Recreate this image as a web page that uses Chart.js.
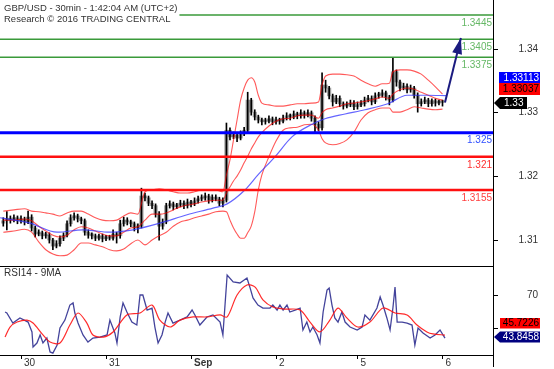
<!DOCTYPE html>
<html><head><meta charset="utf-8">
<script src="https://cdn.jsdelivr.net/npm/chart.js@4.4.1/dist/chart.umd.min.js"></script>
<style>
html,body{margin:0;padding:0;background:#fff;width:554px;height:369px;overflow:hidden;}
#wrap{position:relative;width:554px;height:369px;background:#fff;}
canvas{position:absolute;left:0;}
#main{top:0;width:554px;height:266px;}
#rsi{top:266px;width:554px;height:103px;}
</style></head><body>
<div id="wrap"><canvas id="main" width="554" height="266"></canvas><canvas id="rsi" width="554" height="103"></canvas></div>
<script>
// ---------- DATA ----------
const titleLines = ['GBP/USD - 30min - 1:42:04 AM (UTC+2)', 'Research \u00A9 2016 TRADING CENTRAL'];
const rsiTitle = 'RSI14 - 9MA';

// time axis in hours from the start of Aug 30
const dayTickHours = [0, 24, 48, 72, 95, 119];
const dayLabels = ['30', '31', 'Sep', '2', '5', '6'];

const candleHours = [-5,-4,-3,-2,-1,0,1,2,3,4,5,6,7,8,9,10,11,12,13,14,15,16,17,18,19,20,21,22,23,24,25,26,27,28,29,30,31,32,33,34,35,36,37,38,39,40,41,42,43,44,45,46,47,48,49,50,51,52,53,54,55,56,57,58,59,60,61,62,63,64,65,66,67,68,69,70,71,72,73,74,75,76,77,78,79,80,81,82,83,84,85,86,87,88,89,90,91,92,93,94,95,96,97,98,99,100,101,102,103,104,105,106,107,108,109,110,111,112,113,114,115,116,117,118,119];
const opens = [1.3100,1.3104,1.3107,1.3105,1.3109,1.3104,1.3107,1.3102,1.3110,1.3092,
 1.3082,1.3084,1.3079,1.3080,1.3072,1.3062,1.3066,1.3075,1.3080,1.3099,
 1.3109,1.3112,1.3107,1.3104,1.3085,1.3080,1.3079,1.3075,1.3079,1.3074,
 1.3077,1.3075,1.3082,1.3079,1.3099,1.3105,1.3102,1.3099,1.3092,1.3095,
 1.3145,1.3142,1.3133,1.3129,1.3115,1.3095,1.3102,1.3129,1.3132,1.3127,
 1.3130,1.3133,1.3129,1.3135,1.3132,1.3137,1.3140,1.3142,1.3145,1.3138,
 1.3143,1.3140,1.3133,1.3138,1.3254,1.3243,1.3246,1.3241,1.3248,1.3254,
 1.3304,1.3284,1.3276,1.3271,1.3268,1.3269,1.3273,1.3268,1.3271,1.3269,
 1.3274,1.3278,1.3276,1.3281,1.3278,1.3283,1.3279,1.3283,1.3274,1.3264,
 1.3258,1.3329,1.3324,1.3311,1.3301,1.3307,1.3298,1.3294,1.3296,1.3299,
 1.3293,1.3296,1.3298,1.3304,1.3307,1.3301,1.3311,1.3312,1.3316,1.3309,
 1.3304,1.3351,1.3334,1.3324,1.3327,1.3321,1.3324,1.3312,1.3298,1.3301,
 1.3304,1.3298,1.3303,1.3299,1.3301];
const highs = [1.3109,1.3119,1.3112,1.3114,1.3112,1.3112,1.3110,1.3120,1.3114,1.3095,
 1.3089,1.3087,1.3085,1.3084,1.3075,1.3071,1.3079,1.3084,1.3104,1.3114,
 1.3117,1.3115,1.3110,1.3107,1.3089,1.3084,1.3082,1.3082,1.3082,1.3080,
 1.3080,1.3089,1.3085,1.3105,1.3110,1.3109,1.3105,1.3102,1.3099,1.3158,
 1.3150,1.3145,1.3137,1.3132,1.3119,1.3107,1.3133,1.3137,1.3135,1.3133,
 1.3138,1.3137,1.3140,1.3138,1.3142,1.3145,1.3147,1.3150,1.3148,1.3147,
 1.3147,1.3143,1.3142,1.3266,1.3258,1.3251,1.3250,1.3253,1.3259,1.3317,
 1.3307,1.3288,1.3279,1.3274,1.3274,1.3278,1.3276,1.3276,1.3274,1.3279,
 1.3283,1.3281,1.3286,1.3284,1.3288,1.3286,1.3288,1.3286,1.3278,1.3268,
 1.3349,1.3337,1.3327,1.3314,1.3312,1.3311,1.3301,1.3301,1.3304,1.3303,
 1.3301,1.3303,1.3309,1.3312,1.3311,1.3316,1.3317,1.3321,1.3319,1.3312,
 1.3375,1.3354,1.3337,1.3332,1.3331,1.3329,1.3327,1.3316,1.3306,1.3309,
 1.3307,1.3306,1.3306,1.3304,1.3304];
const lows = [1.3095,1.3089,1.3100,1.3102,1.3099,1.3100,1.3097,1.3099,1.3087,1.3077,
 1.3079,1.3074,1.3075,1.3067,1.3056,1.3059,1.3062,1.3071,1.3077,1.3095,
 1.3105,1.3102,1.3099,1.3080,1.3075,1.3074,1.3071,1.3072,1.3069,1.3071,
 1.3072,1.3072,1.3067,1.3075,1.3095,1.3097,1.3094,1.3087,1.3084,1.3092,
 1.3137,1.3129,1.3124,1.3110,1.3072,1.3090,1.3099,1.3125,1.3122,1.3124,
 1.3127,1.3124,1.3125,1.3127,1.3129,1.3133,1.3137,1.3138,1.3133,1.3135,
 1.3137,1.3129,1.3127,1.3135,1.3238,1.3240,1.3235,1.3238,1.3245,1.3251,
 1.3279,1.3271,1.3266,1.3263,1.3264,1.3266,1.3263,1.3264,1.3264,1.3266,
 1.3271,1.3271,1.3273,1.3273,1.3274,1.3274,1.3276,1.3269,1.3251,1.3253,
 1.3254,1.3317,1.3306,1.3294,1.3298,1.3293,1.3289,1.3291,1.3293,1.3288,
 1.3289,1.3293,1.3294,1.3301,1.3296,1.3298,1.3307,1.3309,1.3304,1.3296,
 1.3301,1.3327,1.3319,1.3321,1.3316,1.3317,1.3307,1.3284,1.3294,1.3298,
 1.3293,1.3294,1.3294,1.3296,1.3294];
const closes = [1.3104,1.3107,1.3105,1.3109,1.3104,1.3107,1.3102,1.3110,1.3092,1.3082,
 1.3084,1.3079,1.3080,1.3072,1.3062,1.3066,1.3075,1.3080,1.3099,1.3109,
 1.3112,1.3107,1.3104,1.3085,1.3080,1.3079,1.3075,1.3079,1.3074,1.3077,
 1.3075,1.3082,1.3079,1.3099,1.3105,1.3102,1.3099,1.3092,1.3095,1.3145,
 1.3142,1.3133,1.3129,1.3115,1.3095,1.3102,1.3129,1.3132,1.3127,1.3130,
 1.3133,1.3129,1.3135,1.3132,1.3137,1.3140,1.3142,1.3145,1.3138,1.3143,
 1.3140,1.3133,1.3138,1.3254,1.3243,1.3246,1.3241,1.3248,1.3254,1.3304,
 1.3284,1.3276,1.3271,1.3268,1.3269,1.3273,1.3268,1.3271,1.3269,1.3274,
 1.3278,1.3276,1.3281,1.3278,1.3283,1.3279,1.3283,1.3274,1.3264,1.3258,
 1.3329,1.3324,1.3311,1.3301,1.3307,1.3298,1.3294,1.3296,1.3299,1.3293,
 1.3296,1.3298,1.3304,1.3307,1.3301,1.3311,1.3312,1.3316,1.3309,1.3304,
 1.3351,1.3334,1.3324,1.3327,1.3321,1.3324,1.3312,1.3298,1.3301,1.3304,
 1.3298,1.3303,1.3299,1.3301,1.3300];

// Bollinger bands
const bandHours = [-5,-2,1,3,5,7,9,11,13,15,17,19,21,23,25,27,29,31,33,35,37,39,41,43,45,47,49,51,53,55,57,58,59,60,61,62,63,64,65,66,67,68,70,72,74,76,78,80,82,84,85,86,88,90,92,94,96,98,100,102,104,105,107,109,111,113,115,117,119];
const upperBand = [1.3120,1.3122,1.3124,1.3120,1.3119,1.3117,1.3115,1.3112,1.3117,1.3120,1.3120,1.3115,1.3109,1.3105,1.3104,1.3105,1.3112,1.3117,1.3115,1.3152,1.3155,1.3157,1.3155,1.3152,1.3150,1.3150,1.3152,1.3155,1.3155,1.3155,1.3152,1.3180,1.3205,1.3238,1.3271,1.3304,1.3324,1.3337,1.3341,1.3334,1.3312,1.3299,1.3296,1.3294,1.3294,1.3296,1.3298,1.3298,1.3299,1.3301,1.3329,1.3344,1.3347,1.3347,1.3346,1.3344,1.3337,1.3331,1.3327,1.3331,1.3332,1.3351,1.3354,1.3354,1.3352,1.3347,1.3337,1.3326,1.3314];
const midBand = [1.3105,1.3105,1.3107,1.3104,1.3095,1.3087,1.3080,1.3077,1.3080,1.3089,1.3094,1.3092,1.3087,1.3082,1.3079,1.3079,1.3085,1.3092,1.3094,1.3105,1.3115,1.3115,1.3117,1.3122,1.3127,1.3130,1.3132,1.3135,1.3137,1.3138,1.3138,1.3150,1.3160,1.3170,1.3178,1.3188,1.3200,1.3211,1.3223,1.3233,1.3243,1.3250,1.3261,1.3269,1.3273,1.3274,1.3278,1.3279,1.3279,1.3274,1.3283,1.3288,1.3291,1.3294,1.3298,1.3299,1.3301,1.3303,1.3306,1.3309,1.3307,1.3314,1.3321,1.3324,1.3322,1.3317,1.3312,1.3307,1.33037];
const lowerBand = [1.3085,1.3087,1.3090,1.3085,1.3069,1.3056,1.3049,1.3046,1.3047,1.3056,1.3067,1.3067,1.3064,1.3061,1.3056,1.3054,1.3057,1.3066,1.3072,1.3064,1.3072,1.3079,1.3085,1.3095,1.3102,1.3105,1.3109,1.3112,1.3115,1.3119,1.3120,1.3119,1.3105,1.3092,1.3082,1.3075,1.3075,1.3084,1.3095,1.3119,1.3155,1.3180,1.3210,1.3236,1.3254,1.3258,1.3259,1.3263,1.3264,1.3254,1.3240,1.3233,1.3230,1.3232,1.3238,1.3251,1.3271,1.3283,1.3288,1.3291,1.3291,1.3284,1.3284,1.3288,1.3293,1.3291,1.3289,1.3288,1.3289];

// longer moving average (blue)
const maHours = [-5.9,-4,2.5,10.2,17.5,25.1,31.6,39.2,46.9,54.2,58.2,63.2,66.9,71.7,76.5,82.2,85.8,91.5,97.1,103.6,109,114.9,120];
const maVals = [1.3109,1.3107,1.3100,1.3085,1.3089,1.3085,1.3089,1.3100,1.3114,1.3125,1.3132,1.3155,1.3180,1.3210,1.3243,1.3264,1.3273,1.3281,1.3288,1.3298,1.3312,1.3312,1.33113];

// support / resistance levels
const levels = [1.3445, 1.3405, 1.3375, 1.325, 1.321, 1.3155];
const levelTexts = ['1.3445', '1.3405', '1.3375', '1.325', '1.321', '1.3155'];

// forecast arrow
const arrowHours = [119.7, 124.2];
const arrowVals = [1.3300, 1.3407];

// price axis tick labels
const priceTicks = [1.31, 1.32, 1.33, 1.34];

// RSI
const rsiHours = [-4.5,-4.0,-2.3,-0.3,2.0,3.1,3.4,4.5,5.4,6.2,7.3,8.2,9.0,10.2,11.0,12.4,13.8,14.7,15.2,16.1,17.5,18.9,20.3,22.3,24.3,25.1,26.5,27.1,28.0,28.8,29.9,31.3,32.7,33.6,34.4,35.6,37.0,37.8,38.7,39.8,40.7,41.5,42.9,44.9,46.9,48.3,49.1,50.5,52.5,54.2,56.2,57.0,58.2,59.9,61.8,63.8,64.7,65.5,66.9,68.3,70.3,71.1,72.3,73.1,74.0,75.1,75.9,77.4,78.8,79.6,80.7,81.6,82.4,83.6,84.4,85.3,86.4,87.0,87.8,88.6,89.5,90.6,91.5,92.9,94.9,96.3,97.1,98.5,100.5,101.4,102.2,103.3,104.2,105.0,105.6,106.2,107.6,109.0,110.4,111.2,112.1,113.5,115.5,116.9,118.3,119.7];
const rsiVals = [59.7,59.1,53.0,56.1,53.6,47.6,38.5,40.9,45.8,40.9,43.9,35.5,34.8,39.7,50.0,54.8,63.9,65.2,59.1,53.0,45.8,41.5,43.9,44.5,45.8,54.8,47.0,40.9,56.7,65.2,59.7,53.6,51.8,70.0,70.0,60.9,62.1,50.6,40.9,45.8,53.6,59.1,53.0,54.8,56.7,60.9,57.9,51.8,56.7,57.9,53.6,45.8,82.1,77.9,77.3,80.3,74.2,68.2,63.9,62.1,62.1,63.9,60.9,63.9,60.9,63.9,59.7,60.9,62.1,48.8,53.6,47.6,50.6,45.8,40.9,59.7,73.0,74.2,63.9,56.1,53.6,59.7,53.6,50.6,48.8,50.6,57.9,54.8,62.1,68.8,63.9,56.1,48.8,62.1,74.8,53.6,53.6,53.0,51.8,39.7,50.0,47.0,43.9,45.8,48.8,43.8458];
const rsiMaHours = [-4.5,-3.1,-1.1,1.7,3.4,6.2,8.2,11.0,13.8,16.1,18.6,20.3,23.2,26.0,29.9,33.6,37.0,39.2,42.1,44.9,48.6,52.5,56.2,58.2,61.0,63.8,66.1,68.3,71.1,74.5,78.8,81.6,84.4,87.2,89.5,92.0,95.1,98.5,102.2,105.6,109.0,111.8,114.6,116.3,119.7];
const rsiMaVals = [44.5,50.6,53.6,54.8,53.0,45.8,41.5,40.9,51.8,59.1,53.0,45.8,44.5,47.6,57.9,59.1,63.9,54.8,50.6,54.8,56.7,56.7,57.9,56.7,70.0,76.1,74.8,67.0,62.7,61.5,60.9,53.6,47.6,54.8,62.1,56.1,50.6,53.6,62.1,59.1,57.9,51.8,47.6,46.4,45.7226];
const rsiTicks = [50, 70];
const rsiTickLabels = ['', '70'];

// ---------- STYLE / LAYOUT ----------
const FONT = '"Liberation Sans", Arial, sans-serif';
const X_MIN = -5.93, X_MAX = 133.26;
const Y_MIN = 1.30290, Y_MAX = 1.34699;      // plotted price range
const YL_MIN = 1.30592, YL_MAX = 1.34770;    // price label axis range
const RSI_MIN = 33.64, RSI_MAX = 87.58;
const levelColors = ['#3a9a3a', '#3a9a3a', '#3a9a3a', '#0000ff', '#ff1010', '#ff1010'];
const levelWidths = [1.5, 1.5, 1.5, 3, 2.5, 2.5];
const levelLabelColors = ['#66b866', '#66b866', '#66b866', '#3050ff', '#ff3030', '#ff4040'];
const arrowColor = '#1b1b80';

const xy = (xs, ys) => xs.map((x, i) => ({x: x, y: ys[i]}));
const lineDs = (label, data, color, width, order, extra) => Object.assign({
  type: 'line', label, data, borderColor: color, borderWidth: width, pointRadius: 0,
  fill: false, order, tension: 0
}, extra || {});
const noPad = s => { s.paddingTop = 0; s.paddingBottom = 0; s.paddingLeft = 0; s.paddingRight = 0; };

const datasets = [];
datasets.push(lineDs('arrow', xy(arrowHours, arrowVals), arrowColor, 2, 0));
levels.forEach((v, i) => datasets.push(lineDs('lvl' + i, [{x: X_MIN, y: v}, {x: X_MAX, y: v}], levelColors[i], levelWidths[i], 1)));
datasets.push(lineDs('ma', xy(maHours, maVals), 'rgba(50,50,255,0.75)', 1.2, 2, {cubicInterpolationMode: 'monotone'}));
datasets.push(lineDs('upper', xy(bandHours, upperBand), 'rgba(255,0,0,0.65)', 1.1, 3, {cubicInterpolationMode: 'monotone'}));
datasets.push(lineDs('mid', xy(bandHours, midBand), 'rgba(255,0,0,0.65)', 1.1, 3, {cubicInterpolationMode: 'monotone'}));
datasets.push(lineDs('lower', xy(bandHours, lowerBand), 'rgba(255,0,0,0.65)', 1.1, 3, {cubicInterpolationMode: 'monotone'}));
datasets.push({type: 'bar', label: 'wick', data: candleHours.map((h, i) => ({x: h, y: [lows[i], highs[i]]})),
  backgroundColor: '#000', barThickness: 1, grouped: false, order: 4});
datasets.push({type: 'bar', label: 'body', data: candleHours.map((h, i) => ({x: h, y: [opens[i], closes[i]]})),
  backgroundColor: 'rgba(95,95,95,0.6)', barThickness: 3.5, grouped: false, order: 5, minBarLength: 2});

const mainDecor = {
  id: 'mainDecor',
  afterDraw(chart) {
    const {ctx, chartArea: ca, scales} = chart;
    const ys = scales.y;
    ctx.save();
    // title with white backing
    ctx.font = '9.5px ' + FONT;
    const w = Math.max(...titleLines.map(t => ctx.measureText(t).width));
    ctx.fillStyle = '#fff';
    ctx.fillRect(0, 0, w + 6, 26);
    ctx.fillStyle = '#333';
    ctx.textAlign = 'left'; ctx.textBaseline = 'middle';
    ctx.fillText(titleLines[0], 4, 8);
    ctx.fillText(titleLines[1], 4, 19.5);
    // level labels
    ctx.font = '10px ' + FONT;
    ctx.textAlign = 'right'; ctx.textBaseline = 'top';
    levels.forEach((v, i) => {
      const py = ys.getPixelForValue(v);
      ctx.fillStyle = levelLabelColors[i];
      ctx.fillText(levelTexts[i], ca.right - 1, py + 3);
    });
    // arrowhead
    const am = chart.getDatasetMeta(0).data;
    const p0 = am[0], p1 = am[1];
    const ang = Math.atan2(p1.y - p0.y, p1.x - p0.x);
    const L = 16, W = 5;
    const bxp = p1.x - L * Math.cos(ang), byp = p1.y - L * Math.sin(ang);
    ctx.fillStyle = arrowColor;
    ctx.beginPath();
    ctx.moveTo(p1.x, p1.y);
    ctx.lineTo(bxp + W * Math.sin(ang), byp - W * Math.cos(ang));
    ctx.lineTo(bxp - W * Math.sin(ang), byp + W * Math.cos(ang));
    ctx.closePath(); ctx.fill();
    // price boxes
    const last = closes[closes.length - 1];
    const by = Math.round(ys.getPixelForValue(last));
    const bx = ca.right;
    ctx.fillStyle = '#000';
    ctx.beginPath();
    ctx.moveTo(bx + 1, by); ctx.lineTo(bx + 7, by - 6); ctx.lineTo(bx + 34, by - 6);
    ctx.lineTo(bx + 34, by + 6); ctx.lineTo(bx + 7, by + 6); ctx.closePath(); ctx.fill();
    ctx.fillStyle = '#fff'; ctx.textAlign = 'left'; ctx.textBaseline = 'middle';
    ctx.fillText(String(last), bx + 11, by + 0.5);
    ctx.fillStyle = '#ff0000'; ctx.fillRect(bx + 6, by - 20, 41, 12);
    ctx.fillStyle = '#000'; ctx.textAlign = 'right';
    ctx.fillText(String(midBand[midBand.length - 1]), bx + 46, by - 13.5);
    ctx.fillStyle = '#0000ff'; ctx.fillRect(bx + 6, by - 31, 41, 11);
    ctx.fillStyle = '#fff';
    ctx.fillText(String(maVals[maVals.length - 1]), bx + 46, by - 25);
    ctx.restore();
  }
};

new Chart(document.getElementById('main'), {
  type: 'bar',
  data: {datasets},
  options: {
    responsive: false, animation: false, events: [],
    layout: {padding: {left: 0, right: 16, top: 0, bottom: 0}},
    plugins: {legend: {display: false}, tooltip: {enabled: false}},
    scales: {
      x: {type: 'linear', min: X_MIN, max: X_MAX, display: false, offset: false},
      y: {type: 'linear', min: Y_MIN, max: Y_MAX, display: false},
      yLab: {
        type: 'linear', position: 'right', min: YL_MIN, max: YL_MAX,
        afterBuildTicks: s => { s.ticks = priceTicks.map(v => ({value: v})); },
        afterFit: s => { s.width = 45; noPad(s); },
        grid: {drawOnChartArea: false, tickLength: 5, color: '#000'},
        border: {color: '#000', width: 1},
        ticks: {crossAlign: 'far', color: '#333', font: {family: FONT, size: 10}, callback: v => v.toFixed(2)}
      }
    }
  },
  plugins: [mainDecor]
});

const rsiDecor = {
  id: 'rsiDecor',
  afterDraw(chart) {
    const {ctx, chartArea: ca, scales} = chart;
    ctx.save();
    ctx.strokeStyle = '#000'; ctx.lineWidth = 1;
    ctx.beginPath(); ctx.moveTo(0, 0.5); ctx.lineTo(ca.right, 0.5); ctx.stroke();
    ctx.beginPath(); ctx.moveTo(ca.right + 0.5, ca.bottom); ctx.lineTo(ca.right + 0.5, chart.height - 2); ctx.stroke();
    ctx.font = '10px ' + FONT; ctx.fillStyle = '#333';
    ctx.textAlign = 'left'; ctx.textBaseline = 'middle';
    ctx.fillText(rsiTitle, 4, 7.5);
    const ys = scales.y;
    const lastR = rsiVals[rsiVals.length - 1];
    const lastM = rsiMaVals[rsiMaVals.length - 1];
    const by = Math.round(ys.getPixelForValue(lastR)) - 1;
    const bx = ca.right;
    ctx.fillStyle = '#ff0000'; ctx.fillRect(bx + 7, by - 19, 40, 10.5);
    ctx.fillStyle = '#000'; ctx.textAlign = 'right';
    ctx.fillText(String(lastM), bx + 46, by - 13.5);
    ctx.fillStyle = '#000080';
    ctx.beginPath();
    ctx.moveTo(bx + 1, by); ctx.lineTo(bx + 7, by - 5.5); ctx.lineTo(bx + 47, by - 5.5);
    ctx.lineTo(bx + 47, by + 5.5); ctx.lineTo(bx + 7, by + 5.5); ctx.closePath(); ctx.fill();
    ctx.fillStyle = '#fff';
    ctx.fillText(String(lastR), bx + 46, by + 0.5);
    ctx.restore();
  }
};

new Chart(document.getElementById('rsi'), {
  type: 'line',
  data: {datasets: [
    {label: 'rsiMA', data: xy(rsiMaHours, rsiMaVals), borderColor: 'rgba(255,20,20,0.9)', borderWidth: 1.2, pointRadius: 0, tension: 0.3, order: 0},
    {label: 'rsi', data: xy(rsiHours, rsiVals), borderColor: 'rgba(20,20,130,0.8)', borderWidth: 1.3, pointRadius: 0, tension: 0, order: 1}
  ]},
  options: {
    responsive: false, animation: false, events: [],
    layout: {padding: {left: 0, right: 16, top: 0, bottom: 0}},
    plugins: {legend: {display: false}, tooltip: {enabled: false}},
    scales: {
      x: {
        type: 'linear', min: X_MIN, max: X_MAX, offset: false,
        afterBuildTicks: s => { s.ticks = dayTickHours.map(v => ({value: v})); },
        afterFit: s => { s.height = 14; noPad(s); },
        grid: {drawOnChartArea: false, tickLength: 4, color: '#000'},
        border: {color: '#000', width: 1},
        ticks: {
          align: 'start', labelOffset: 3, padding: -2, maxRotation: 0, autoSkip: false, color: '#333',
          font: c => ({family: FONT, size: 10, weight: (c.tick && c.tick.label === 'Sep') ? 'bold' : 'normal'}),
          callback: (v, i) => dayLabels[i]
        }
      },
      y: {
        type: 'linear', position: 'right', min: RSI_MIN, max: RSI_MAX,
        afterBuildTicks: s => { s.ticks = rsiTicks.map(v => ({value: v})); },
        afterFit: s => { s.width = 45; noPad(s); },
        grid: {drawOnChartArea: false, tickLength: 5, color: '#000'},
        border: {color: '#000', width: 1},
        ticks: {crossAlign: 'far', color: '#333', font: {family: FONT, size: 10},
          callback: (v, i) => rsiTickLabels[i]}
      }
    }
  },
  plugins: [rsiDecor]
});
</script></body></html>
